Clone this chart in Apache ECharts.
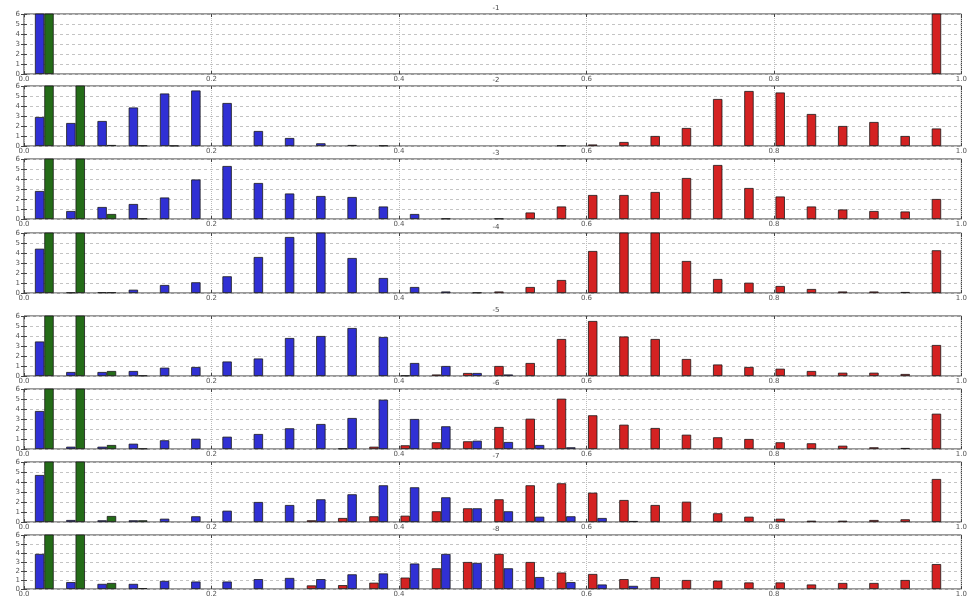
<!DOCTYPE html>
<html>
<head>
<meta charset="utf-8">
<script src="https://cdn.jsdelivr.net/npm/echarts@6/dist/echarts.min.js"></script>
<style>
  html, body { margin: 0; padding: 0; background: #fff; }
  #chart { width: 970px; height: 598px; }
</style>
</head>
<body>
<div id="chart"></div>
<script>
// subplot titles
var titles = ["-1", "-2", "-3", "-4", "-5", "-6", "-7", "-8"];
// x tick labels of the value axis
var xTicks = [0, 0.2, 0.4, 0.6, 0.8, 1];
// 30 bins over 0..1
var bins = [];
for (var b = 0; b < 30; b++) bins.push(String(b));

// histogram heights per subplot (values above 6 are clipped by the axis)
var blueVals = [
  [30,0,0,0,0,0,0,0,0,0, 0,0,0,0,0,0,0,0,0,0, 0,0,0,0,0,0,0,0,0,0],
  [2.9,2.3,2.5,3.85,5.25,5.55,4.3,1.5,0.8,0.27, 0.1,0.05,0,0,0,0,0,0,0,0, 0,0,0,0,0,0,0,0,0,0],
  [2.8,0.8,1.2,1.5,2.15,3.95,5.3,3.6,2.55,2.3, 2.2,1.25,0.5,0.05,0,0,0,0,0,0, 0,0,0,0,0,0,0,0,0,0],
  [4.43,0.05,0.07,0.33,0.8,1.07,1.67,3.6,5.6,6.3, 3.5,1.5,0.6,0.15,0.05,0,0,0,0,0, 0,0,0,0,0,0,0,0,0,0],
  [3.45,0.4,0.4,0.5,0.83,0.9,1.45,1.75,3.8,4.0, 4.8,3.9,1.3,1.0,0.3,0.15,0,0,0,0, 0,0,0,0,0,0,0,0,0,0],
  [3.8,0.23,0.23,0.53,0.87,1.03,1.23,1.5,2.07,2.5, 3.1,4.93,3.0,2.27,0.83,0.7,0.4,0.17,0,0, 0,0,0,0,0,0,0,0,0,0],
  [4.7,0.2,0.17,0.17,0.33,0.57,1.13,2.0,1.7,2.27, 2.77,3.67,3.47,2.47,1.37,1.07,0.53,0.57,0.4,0.1, 0,0,0,0,0,0,0,0,0,0],
  [3.9,0.77,0.57,0.57,0.9,0.83,0.83,1.1,1.23,1.1, 1.63,1.73,2.83,3.9,2.9,2.3,1.33,0.77,0.5,0.35, 0,0,0,0,0,0,0,0,0,0]
];
var greenVals = [
  [12,0,0,0,0,0,0,0,0,0, 0,0,0,0,0,0,0,0,0,0, 0,0,0,0,0,0,0,0,0,0],
  [12,12,0.1,0.05,0.03,0,0,0,0,0, 0,0,0,0,0,0,0,0,0,0, 0,0,0,0,0,0,0,0,0,0],
  [12,12,0.5,0.05,0,0,0,0,0,0, 0,0,0,0,0,0,0,0,0,0, 0,0,0,0,0,0,0,0,0,0],
  [12,12,0.07,0,0,0,0,0,0,0, 0,0,0,0,0,0,0,0,0,0, 0,0,0,0,0,0,0,0,0,0],
  [12,12,0.5,0.05,0,0,0,0,0,0, 0,0,0,0,0,0,0,0,0,0, 0,0,0,0,0,0,0,0,0,0],
  [12,12,0.4,0.05,0,0,0,0,0,0, 0,0,0,0,0,0,0,0,0,0, 0,0,0,0,0,0,0,0,0,0],
  [12,12,0.6,0.17,0,0,0,0,0,0, 0,0,0,0,0,0,0,0,0,0, 0,0,0,0,0,0,0,0,0,0],
  [12,12,0.67,0.1,0,0,0,0,0,0, 0,0,0,0,0,0,0,0,0,0, 0,0,0,0,0,0,0,0,0,0]
];
var redVals = [
  [0,0,0,0,0,0,0,0,0,0, 0,0,0,0,0,0,0,0,0,0, 0,0,0,0,0,0,0,0,0,30],
  [0,0,0,0,0,0,0,0,0,0, 0,0,0,0,0,0,0,0.05,0.15,0.4, 1.0,1.8,4.7,5.5,5.35,3.2,2.0,2.4,1.0,1.75],
  [0,0,0,0,0,0,0,0,0,0, 0,0,0,0,0,0.05,0.65,1.25,2.4,2.4, 2.7,4.1,5.4,3.1,2.25,1.25,0.95,0.8,0.75,2.0],
  [0,0,0,0,0,0,0,0,0,0, 0,0,0,0,0,0.15,0.6,1.3,4.2,6.5, 6.5,3.2,1.4,1.03,0.7,0.4,0.15,0.15,0.1,4.27],
  [0,0,0,0,0,0,0,0,0,0, 0,0,0.05,0.15,0.3,1.0,1.3,3.7,5.5,3.95, 3.7,1.7,1.15,0.9,0.73,0.5,0.33,0.33,0.2,3.1],
  [0,0,0,0,0,0,0,0,0,0, 0.05,0.23,0.37,0.67,0.77,2.2,3.03,5.03,3.37,2.43, 2.1,1.43,1.17,1.0,0.67,0.57,0.33,0.17,0.1,3.53],
  [0,0,0,0,0,0,0,0,0,0.17, 0.4,0.57,0.63,1.07,1.37,2.27,3.67,3.87,2.93,2.2, 1.7,2.03,0.87,0.53,0.33,0.13,0.13,0.2,0.27,4.3],
  [0,0,0,0,0,0,0,0,0,0.4, 0.43,0.7,1.27,2.3,3.0,3.9,3.0,1.83,1.67,1.1, 1.33,1.0,0.93,0.73,0.73,0.5,0.67,0.67,1.0,2.77]
];

var gridTops = [14, 86, 159, 233, 316, 389, 462, 535];
var plotLeft = 24, plotWidth = 944, plotHeight = 60;
var font = "DejaVu Sans";

var grids = [], xAxes = [], yAxes = [], series = [], graphics = [];

gridTops.forEach(function (top, i) {
  grids.push({
    left: plotLeft, top: top, width: plotWidth, height: plotHeight,
    show: true, borderColor: "#333", borderWidth: 1, backgroundColor: "transparent"
  });
  // hidden category axis that holds the bars
  xAxes.push({ type: "category", gridIndex: i, data: bins, show: false, boundaryGap: true });
  // bottom value axis: labels and vertical grid
  xAxes.push({
    type: "value", gridIndex: i, min: 0, max: 1, interval: 0.2, position: "bottom",
    axisLine: { show: false },
    axisTick: { show: true, inside: true, length: 3, lineStyle: { color: "#444" } },
    axisLabel: {
      fontSize: 7, fontFamily: font, color: "#555", margin: 2,
      formatter: function (v) { return xTicks.indexOf(v) >= 0 ? v.toFixed(1) : ""; }
    },
    splitLine: { show: true, lineStyle: { color: "#bbb", type: "dotted", width: 1 } }
  });
  // top axis: ticks only
  xAxes.push({
    type: "value", gridIndex: i, min: 0, max: 1, interval: 0.2, position: "top",
    axisLine: { show: false }, axisLabel: { show: false }, splitLine: { show: false },
    axisTick: { show: true, inside: true, length: 3, lineStyle: { color: "#444" } }
  });
  yAxes.push({
    type: "value", gridIndex: i, min: 0, max: 6, interval: 1,
    axisLine: { show: false },
    axisTick: { show: true, inside: true, length: 3, lineStyle: { color: "#444" } },
    axisLabel: { fontSize: 7, fontFamily: font, color: "#555", margin: 4 },
    splitLine: { show: true, lineStyle: { color: "#c4c4c4", type: [3, 3], width: 1 } }
  });
  yAxes.push({
    type: "value", gridIndex: i, min: 0, max: 6, interval: 1, position: "right",
    axisLine: { show: false }, axisLabel: { show: false }, splitLine: { show: false },
    axisTick: { show: true, inside: true, length: 3, lineStyle: { color: "#444" } }
  });

  var sets = [
    { name: "red", data: redVals[i], color: "#d42222" },
    { name: "blue", data: blueVals[i], color: "#3030d4" },
    { name: "green", data: greenVals[i], color: "#246c18" }
  ];
  sets.forEach(function (s) {
    series.push({
      type: "bar", name: s.name, xAxisIndex: i * 3, yAxisIndex: i * 2,
      // empty bins are left out so no edge line is drawn on the baseline
      data: s.data.map(function (v) { return v === 0 ? "-" : v; }),
      barWidth: "30%", barGap: "0%", clip: true, silent: true,
      itemStyle: { color: s.color, borderColor: "#1a1a1a", borderWidth: 0.8 }
    });
  });

  graphics.push({
    type: "text", x: plotLeft + plotWidth / 2, y: top - 6,
    style: {
      text: titles[i], fill: "#444", font: "7px " + font,
      align: "center", verticalAlign: "middle", textAlign: "center", textVerticalAlign: "middle"
    }
  });
});

var myChart = echarts.init(document.getElementById("chart"));
myChart.setOption({
  animation: false,
  backgroundColor: "#fff",
  grid: grids,
  xAxis: xAxes,
  yAxis: yAxes,
  series: series,
  graphic: graphics
});
</script>
</body>
</html>
